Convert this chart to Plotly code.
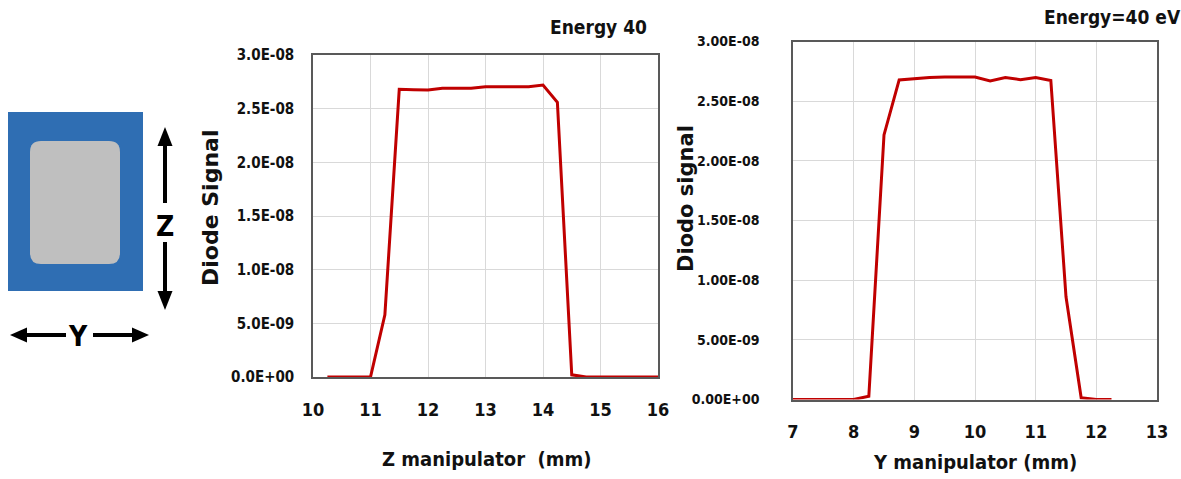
import plotly.graph_objects as go

W, H = 1181, 479

# ---------------- data ----------------
z_pos = [10.25, 10.5, 10.75, 11.0, 11.25, 11.5, 11.75, 12.0, 12.25, 12.5, 12.75,
         13.0, 13.25, 13.5, 13.75, 14.0, 14.25, 14.5, 14.75, 15.0, 15.25, 15.5,
         15.75, 16.0]
z_signal = [0, 0, 0, 0, 5.8e-9, 2.68e-8, 2.677e-8, 2.674e-8, 2.69e-8, 2.69e-8,
            2.69e-8, 2.705e-8, 2.705e-8, 2.705e-8, 2.705e-8, 2.72e-8, 2.56e-8,
            2.0e-10, 0, 0, 0, 0, 0, 0]

y_pos = [7.0, 7.25, 7.5, 7.75, 8.0, 8.25, 8.5, 8.75, 9.0, 9.25, 9.5, 9.75, 10.0,
         10.25, 10.5, 10.75, 11.0, 11.25, 11.5, 11.75, 12.0, 12.25]
y_signal = [0, 0, 0, 0, 0, 2.8e-10, 2.217e-8, 2.678e-8, 2.69e-8, 2.698e-8,
            2.703e-8, 2.703e-8, 2.703e-8, 2.67e-8, 2.698e-8, 2.68e-8, 2.698e-8,
            2.673e-8, 8.61e-9, 1.4e-10, 0, 0]

y_tickvals = [0, 5e-9, 1e-8, 1.5e-8, 2e-8, 2.5e-8, 3e-8]
z_ticktext = ["0.0E+00", "5.0E-09", "1.0E-08", "1.5E-08", "2.0E-08", "2.5E-08", "3.0E-08"]
y_ticktext = ["0.00E+00", "5.00E-09", "1.00E-08", "1.50E-08", "2.00E-08", "2.50E-08", "3.00E-08"]
z_xticks = [10, 11, 12, 13, 14, 15, 16]
y_xticks = [7, 8, 9, 10, 11, 12, 13]

RED = "#C00000"
GRID = "#D9D9D9"
BORDER = "#595959"
NARROW = "DejaVu Sans Condensed, Liberation Sans, sans-serif"
TXT = "#111111"


def px(x):
    return x / W


def py(y):
    return 1 - y / H


fig = go.Figure()
fig.add_trace(go.Scatter(x=z_pos, y=z_signal, mode="lines",
                         line=dict(color=RED, width=3), xaxis="x", yaxis="y",
                         showlegend=False))
fig.add_trace(go.Scatter(x=y_pos, y=y_signal, mode="lines",
                         line=dict(color=RED, width=3), xaxis="x2", yaxis="y2",
                         showlegend=False))

common_axis = dict(showline=True, linecolor=BORDER, linewidth=1.5, mirror=True,
                   showgrid=True, gridcolor=GRID, gridwidth=1, zeroline=False,
                   ticks="", fixedrange=True, automargin=False)


def tf(size):
    return dict(family=NARROW, size=size, color=TXT, weight="bold")


fig.update_layout(
    width=W, height=H,
    margin=dict(l=0, r=0, t=0, b=0, autoexpand=False),
    paper_bgcolor="white", plot_bgcolor="white",
    xaxis=dict(domain=[px(313), px(658)], range=[10, 16], tickvals=z_xticks,
               anchor="y", tickfont=tf(18), ticklabelstandoff=16, **common_axis),
    yaxis=dict(domain=[py(377), py(55)], range=[0, 3e-8], tickvals=y_tickvals,
               ticktext=z_ticktext, anchor="x", tickfont=tf(15),
               ticklabelstandoff=14, **common_axis),
    xaxis2=dict(domain=[px(793), px(1157)], range=[7, 13], tickvals=y_xticks,
                anchor="y2", tickfont=tf(18), ticklabelstandoff=15, **common_axis),
    yaxis2=dict(domain=[py(399.5), py(41.5)], range=[0, 3e-8], tickvals=y_tickvals,
                ticktext=y_ticktext, anchor="x2", tickfont=tf(14),
                ticklabelstandoff=29, **common_axis),
)


def note(text, x, y, size, family=NARROW, angle=0, color=TXT):
    return dict(text=text, x=px(x), y=py(y), xref="paper", yref="paper",
                xanchor="center", yanchor="middle", showarrow=False,
                textangle=angle, font=dict(family=family, size=size, color=color))


ann = [
    note("<b>Energy 40</b>", 598, 27, 19),
    note("<b>Energy=40 eV</b>", 1112, 17, 19),
    note("<b>Diode Signal</b>", 210, 208, 22, family="DejaVu Sans", angle=-90),
    note("<b>Diodo signal</b>", 686, 199, 21, family="DejaVu Sans", angle=-90),
    note("<b>Z manipulator  (mm)</b>", 486, 459, 20),
    note("<b>Y manipulator (mm)</b>", 975, 462, 20),
    note("<b>Z</b>", 165, 226, 28, color="black"),
    note("<b>Y</b>", 78, 336, 28, color="black"),
]
fig.update_layout(annotations=ann)


def pth(points, close=True):
    s = "M " + " L ".join(f"{px(a)},{py(b)}" for a, b in points)
    return s + (" Z" if close else "")


shapes = []
# blue square
shapes.append(dict(type="rect", xref="paper", yref="paper", x0=px(8), x1=px(143),
                   y0=py(291), y1=py(112), fillcolor="#2F6EB3", line=dict(width=0),
                   layer="above"))
# gray rounded rectangle
x0, x1, y0, y1, r = 30, 120, 141, 264, 11
rr = (f"M {px(x0+r)},{py(y0)} L {px(x1-r)},{py(y0)} Q {px(x1)},{py(y0)} {px(x1)},{py(y0+r)} "
      f"L {px(x1)},{py(y1-r)} Q {px(x1)},{py(y1)} {px(x1-r)},{py(y1)} "
      f"L {px(x0+r)},{py(y1)} Q {px(x0)},{py(y1)} {px(x0)},{py(y1-r)} "
      f"L {px(x0)},{py(y0+r)} Q {px(x0)},{py(y0)} {px(x0+r)},{py(y0)} Z")
shapes.append(dict(type="path", xref="paper", yref="paper", path=rr,
                   fillcolor="#BFBFBF", line=dict(width=0), layer="above"))
# vertical arrow
shapes.append(dict(type="line", xref="paper", yref="paper", x0=px(165), x1=px(165),
                   y0=py(143), y1=py(203), line=dict(color="black", width=4)))
shapes.append(dict(type="line", xref="paper", yref="paper", x0=px(165), x1=px(165),
                   y0=py(242), y1=py(294), line=dict(color="black", width=4)))
shapes.append(dict(type="path", xref="paper", yref="paper",
                   path=pth([(165, 127), (172.5, 146), (157.5, 146)]),
                   fillcolor="black", line=dict(width=0)))
shapes.append(dict(type="path", xref="paper", yref="paper",
                   path=pth([(165, 310), (172.5, 291), (157.5, 291)]),
                   fillcolor="black", line=dict(width=0)))
# horizontal arrow
shapes.append(dict(type="line", xref="paper", yref="paper", x0=px(24), x1=px(66),
                   y0=py(335), y1=py(335), line=dict(color="black", width=4)))
shapes.append(dict(type="line", xref="paper", yref="paper", x0=px(93), x1=px(135),
                   y0=py(335), y1=py(335), line=dict(color="black", width=4)))
shapes.append(dict(type="path", xref="paper", yref="paper",
                   path=pth([(10, 335), (27, 327.5), (27, 342.5)]),
                   fillcolor="black", line=dict(width=0)))
shapes.append(dict(type="path", xref="paper", yref="paper",
                   path=pth([(149, 335), (132, 327.5), (132, 342.5)]),
                   fillcolor="black", line=dict(width=0)))
fig.update_layout(shapes=shapes)

fig.write_html("out.html")
